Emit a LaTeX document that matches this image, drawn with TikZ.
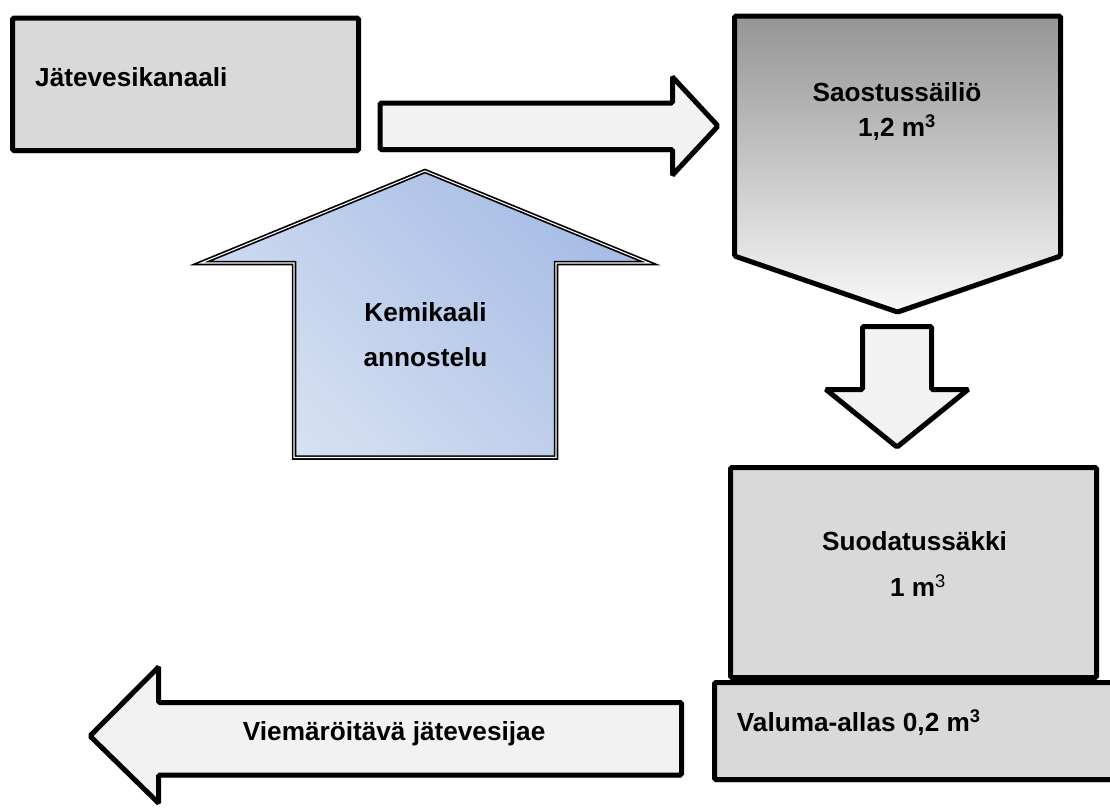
\documentclass[tikz,border=0pt]{standalone}
\usepackage{fontspec}
\setmainfont{Liberation Sans}
\usetikzlibrary{shadows}
\definecolor{boxgray}{HTML}{D9D9D9}
\definecolor{arrowgray}{HTML}{F2F2F2}
\definecolor{tanktop}{HTML}{959595}
\definecolor{tankbottom}{HTML}{F8F8F8}
\definecolor{dosedark}{HTML}{A6BCE5}
\definecolor{doselight}{HTML}{D6E1F2}
\tikzset{
  outline/.style={draw=black,line width=5pt,rounded corners=1.5pt,
    drop shadow={shadow xshift=1pt,shadow yshift=-3pt,opacity=0.25}},
  box/.style={outline,fill=boxgray},
  flow/.style={outline,fill=arrowgray},
  caption/.style={inner sep=0pt,font=\fontsize{26.2}{30}\selectfont\bfseries},
}
\begin{document}
\begin{tikzpicture}[x=1pt,y=-1pt]
  \useasboundingbox (0,0) rectangle (1110,809);
  \coordinate (inlet nw) at (12.5,18);
  \coordinate (inlet se) at (358.5,150.5);
  \coordinate (bag nw) at (730.5,467.5);
  \coordinate (bag se) at (1096.5,677.5);
  \coordinate (basin nw) at (714.5,682.5);
  \coordinate (basin se) at (1113,779.5);
  \coordinate (tank tip) at (897.5,312);
  \coordinate (dose tip) at (425,171);
  \draw[box] (inlet nw) rectangle (inlet se);
  \draw[flow]
    (380,103) -- (672.5,103) -- (672.5,77) -- (718,126)
    -- (672.5,175) -- (672.5,149.5) -- (380,149.5) -- cycle;
  \draw[outline,top color=tanktop,bottom color=tankbottom]
    (734.5,16) -- (1060.5,16) -- (1060.5,256) -- (tank tip)
    -- (734.5,256) -- cycle;
  \draw[draw=black,line width=1.7pt,double=white,double distance=1.1pt,
        top color=dosedark,bottom color=doselight,shading angle=-45]
    (294,457.5) -- (294,263) -- (201,263) -- (dose tip)
    -- (649,263) -- (556,263) -- (556,457.5) -- cycle;
  \draw[flow]
    (862.5,326.5) -- (931.5,326.5) -- (931.5,389.5) -- (968,389.5)
    -- (897,447) -- (826,389.5) -- (862.5,389.5) -- cycle;
  \draw[box] (bag nw) rectangle (bag se);
  \draw[box] (basin nw) rectangle (basin se);
  \draw[flow]
    (681.5,702.5) -- (158.5,702.5) -- (158.5,667) -- (90,736)
    -- (158.5,803) -- (158.5,775) -- (681.5,775) -- cycle;
  \node[caption,anchor=base west] (inlet) at (35,86.7) {Jätevesikanaali};
  \node[caption,anchor=base] (tank) at (897,101.7) {Saostussäiliö};
  \node[caption,anchor=base] (tank volume) at (897,136.7) {1,2 m\textsuperscript{3}};
  \node[caption,anchor=base] (dose) at (425.5,321.7) {Kemikaali};
  \node[caption,anchor=base] (dose text) at (425.5,366.7) {annostelu};
  \node[caption,anchor=base] (bag) at (914.5,550) {Suodatussäkki};
  \node[caption,anchor=base] (bag volume) at (918,596.7) {1 m{\mdseries\textsuperscript{3}}};
  \node[caption,anchor=base west] (basin) at (736.7,731.7) {Valuma-allas 0,2 m\textsuperscript{3}};
  \node[caption,anchor=base west] (outlet) at (242.7,740) {Viemäröitävä jätevesijae};
\end{tikzpicture}
\end{document}
